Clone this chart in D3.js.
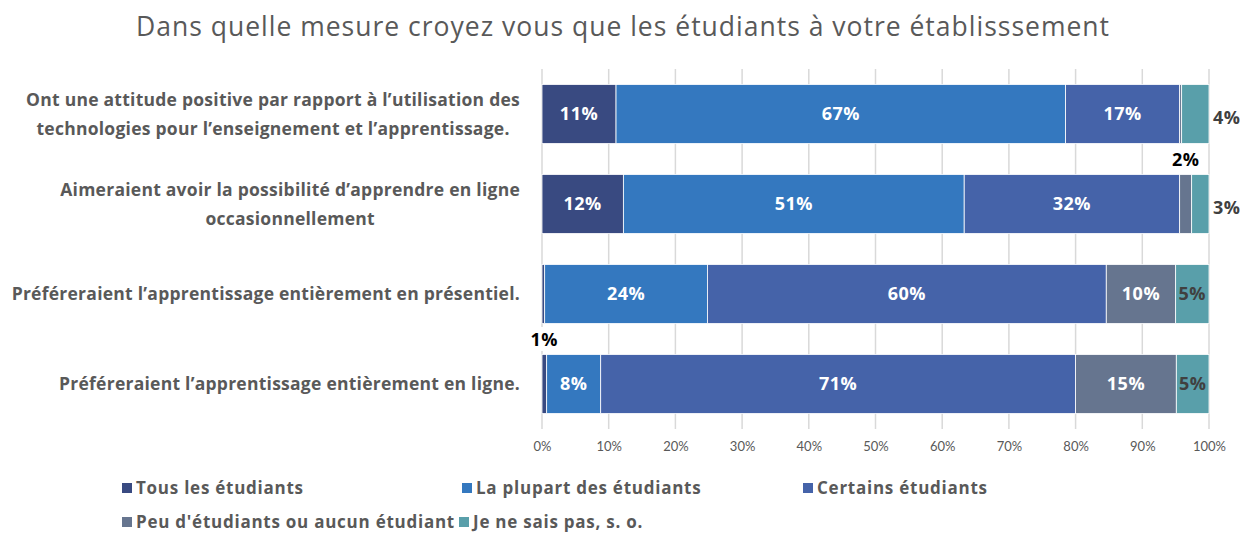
<!DOCTYPE html>
<html>
<head>
<meta charset="utf-8">
<script src="https://cdn.jsdelivr.net/npm/d3@7"></script>
<style>
  html, body { margin: 0; padding: 0; background: #fff; }
  svg { display: block; font-family: "Open Sans", Lato, sans-serif; }
</style>
</head>
<body>
<svg id="chart" width="1244" height="533"></svg>
<script>
// ---- Données
const title = "Dans quelle mesure croyez vous que les étudiants à votre établisssement";

const categories = [
    ["Ont une attitude positive par rapport à l’utilisation des", "technologies pour l’enseignement et l’apprentissage."],
    ["Aimeraient avoir la possibilité d’apprendre en ligne", "occasionnellement"],
    ["Préféreraient l’apprentissage entièrement en présentiel."],
    ["Préféreraient l’apprentissage entièrement en ligne."]
];

const seriesNames = [
    "Tous les étudiants",
    "La plupart des étudiants",
    "Certains étudiants",
    "Peu d'étudiants ou aucun étudiant",
    "Je ne sais pas, s. o."
];

const tous      = [11.1, 12.2, 0.4, 0.7];
const plupart   = [67.4, 51.1, 24.4, 8.1];
const certains  = [17.1, 32.3, 59.8, 71.2];
const peu       = [0.3, 1.8, 10.4, 15.1];
const nsp       = [4.1, 2.6, 5.0, 4.9];

const xTicks = [0, 10, 20, 30, 40, 50, 60, 70, 80, 90, 100];

const colors = ["#394a81", "#3478bf", "#4563a9", "#66758f", "#599faa"];

// ---- Table pour d3.stack
const table = categories.map((c, i) => ({
    key: i,
    s0: tous[i], s1: plupart[i], s2: certains[i], s3: peu[i], s4: nsp[i]
}));
const keys = ["s0", "s1", "s2", "s3", "s4"];
const stacked = d3.stack().keys(keys)(table);

const svg = d3.select("#chart");
const grey = "#595959";

// ---- Titre
svg.append("text")
    .attr("x", 623)
    .attr("y", 36)
    .attr("text-anchor", "middle")
    .style("font-size", "26.5px")
    .style("letter-spacing", "1px")
    .style("fill", grey)
    .text(title);

// ---- Escalas
const mapX = d3.scaleLinear().domain([0, 100]).range([542, 1209]);
const mapY = d3.scaleBand().domain(d3.range(categories.length)).range([69, 429])
    .paddingInner(0.344).paddingOuter(0.172);

// ---- Grille
svg.append("g")
    .selectAll("line")
    .data(xTicks)
    .join("line")
    .attr("x1", d => mapX(d)).attr("x2", d => mapX(d))
    .attr("y1", 69).attr("y2", 429)
    .attr("stroke", "#d9d9d9")
    .attr("stroke-width", 1.5);

// ---- Axe X
const xAxis = d3.axisBottom(mapX)
    .tickValues(xTicks)
    .tickSize(0)
    .tickPadding(13)
    .tickFormat(d => d + "%");
svg.append("g")
    .attr("transform", "translate(0, 429)")
    .call(xAxis)
    .call(g => g.select(".domain").remove())
    .call(g => g.selectAll("text").style("font-size", "13px").style("fill", grey).style("font-family", "Lato, sans-serif"));

// ---- Barres
const layers = svg.append("g")
    .selectAll("g")
    .data(stacked)
    .join("g")
    .attr("fill", (d, i) => colors[i]);

layers.selectAll("rect")
    .data(d => d)
    .join("rect")
    .attr("x", d => mapX(d[0]))
    .attr("y", (d, i) => mapY(i))
    .attr("width", d => mapX(d[1]) - mapX(d[0]))
    .attr("height", mapY.bandwidth())
    .attr("stroke", "#ffffff")
    .attr("stroke-width", 0.8);

// ---- Étiquettes de valeurs
const labels = [];
stacked.forEach((layer, si) => {
    layer.forEach((d, i) => {
        const v = d[1] - d[0];
        const txt = Math.round(v) + "%";
        if (Math.round(v) < 1) return;
        const w = mapX(d[1]) - mapX(d[0]);
        let pos = "inside";
        if (w < 30) pos = si === keys.length - 1 ? "right" : "above";
        labels.push({ si, i, txt, pos, x0: mapX(d[0]), x1: mapX(d[1]) });
    });
});

const lg = svg.append("g")
    .style("font-weight", "bold")
    .style("font-size", "18px")
    .style("letter-spacing", "0.5px");

labels.forEach(l => {
    const yc = mapY(l.i) + mapY.bandwidth() / 2;
    if (l.pos === "inside") {
        lg.append("text")
            .attr("x", (l.x0 + l.x1) / 2)
            .attr("y", yc)
            .attr("dy", "0.36em")
            .attr("text-anchor", "middle")
            .style("fill", l.si === 4 ? "#404040" : "#ffffff")
            .text(l.txt);
    } else if (l.pos === "right") {
        lg.append("text")
            .attr("x", mapX(100) + 4)
            .attr("y", yc + 4)
            .attr("dy", "0.36em")
            .style("fill", "#404040")
            .text(l.txt);
    } else {
        const t = lg.append("text")
            .attr("x", (l.x0 + l.x1) / 2)
            .attr("y", mapY(l.i) - 15)
            .attr("dy", "0.36em")
            .attr("text-anchor", "middle")
            .style("fill", "#000000")
            .text(l.txt);
        const bb = t.node().getBBox();
        lg.insert("rect", () => t.node())
            .attr("x", bb.x - 3).attr("y", bb.y)
            .attr("width", bb.width + 6).attr("height", bb.height)
            .attr("fill", "#ffffff");
    }
});

// ---- Catégories
const cat = svg.append("g")
    .style("font-weight", "bold")
    .style("font-size", "17.5px")
    .style("letter-spacing", "0.25px")
    .style("fill", grey);

categories.forEach((lines, i) => {
    const yc = mapY(i) + mapY.bandwidth() / 2;
    const g = cat.append("g");
    const texts = lines.map((line, k) => g.append("text")
        .attr("y", yc + (k - (lines.length - 1) / 2) * 29)
        .attr("dy", "0.36em")
        .attr("text-anchor", "middle")
        .text(line));
    const maxW = d3.max(texts, t => t.node().getComputedTextLength());
    texts.forEach(t => t.attr("x", 520 - maxW / 2));
});

// ---- Légende
const legend = svg.append("g")
    .style("font-weight", "bold")
    .style("font-size", "17px")
    .style("letter-spacing", "0.75px")
    .style("fill", grey);

const legendPos = [[122, 488], [462, 488], [803, 488], [122, 522], [null, 522]];
let lastEnd = 0;
seriesNames.forEach((name, i) => {
    let [x, y] = legendPos[i];
    if (x === null) x = lastEnd + 4;
    legend.append("rect")
        .attr("x", x).attr("y", y - 5)
        .attr("width", 10).attr("height", 10)
        .attr("fill", colors[i]);
    const t = legend.append("text")
        .attr("x", x + 14)
        .attr("y", y)
        .attr("dy", "0.36em")
        .text(name);
    lastEnd = x + 14 + t.node().getComputedTextLength();
});
</script>
</body>
</html>
